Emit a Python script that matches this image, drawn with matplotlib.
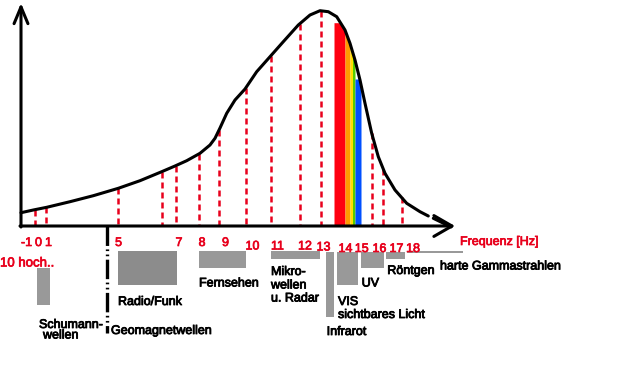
import numpy as np
import matplotlib
matplotlib.use('Agg')
import matplotlib.pyplot as plt
import matplotlib.patheffects as pe

plt.rcParams['font.family'] = ['Liberation Sans', 'DejaVu Sans']
plt.rcParams['lines.scale_dashes'] = False

W, H = 618, 369
AXIS_Y = 226
AXIS_X = 21

# intensity curve (schematic, pixel frame)
curve_x = [21, 33.3, 46.7, 70, 93.3, 118.3, 140, 161.7, 175, 186.7, 200, 210, 215,
           220, 226.7, 235, 245, 256.7, 270, 283.3, 298.3, 310, 320, 328.3, 336.7,
           345, 350, 355, 360, 365, 371.7, 378.3, 385, 395, 406.7, 420, 428.3,
           np.nan, 433.3, 445, 451]
curve_y = [212.7, 210, 207.3, 201.7, 195.7, 188.3, 180.7, 171.7, 166, 160.7, 153.3, 145, 138.3,
           128, 113.3, 100, 89, 71.7, 56.7, 41.7, 25, 15, 10.7, 11.7, 16.7,
           30, 43.3, 60, 80, 103.3, 133.3, 156.7, 173.3, 190, 203.3, 211.7, 216,
           np.nan, 218.3, 224, 227]

# dashed red marker lines
marker_x = [35, 46, 118.3, 161.7, 176, 199.3, 219, 245.5, 270.5, 300, 320.5, 371.7, 383.3, 401.5]

# visible spectrum bands
band_left = [334, 345, 350, 352.5, 355]
band_right = [345, 350, 352.5, 355, 361]
band_cap = [22.7, 0, 0, 0, 79]
band_color = ['#ff0010', '#ff9a00', '#ffe000', '#55cc00', '#0050ff']

# red exponent labels
exp_labels = ['-1', '0', '1', '5', '7', '8', '9', '10', '11', '12', '13', '14', '15', '16', '17', '18']
exp_x = [26.5, 38.5, 48.5, 118.5, 179, 202, 225.5, 252.5, 277.5, 305, 323.5, 345.5, 361.7, 379.5, 396.5, 413]
exp_base = [246, 246, 246, 246, 246, 246, 246, 249.5, 249.5, 249.5, 250.5, 252, 252, 252, 252, 252]

# grey range bars
bar_left = [37.3, 118.3, 199, 270.7, 326, 337.3, 360.7, 386, 406.7]
bar_right = [50, 176.7, 245.7, 320, 334.3, 358.3, 384, 405, 462.7]
bar_top = [268.3, 250.7, 250.7, 251, 251.7, 251.7, 251.7, 251.7, 250.7]
bar_bottom = [305, 285, 267.7, 259, 317, 285, 267.7, 259.3, 253.3]
bar_color = ['#999999', '#8c8c8c', '#999999', '#999999', '#999999', '#999999', '#999999', '#999999', '#999999']

# black names
name_text = ['Schumann-', 'wellen', 'Geomagnetwellen', 'Radio/Funk', 'Fernsehen',
             'Mikro-', 'wellen', 'u. Radar', 'Infrarot', 'VIS', 'sichtbares Licht',
             'UV', 'Röntgen', 'harte Gammastrahlen']
name_x = [39, 43, 111, 118, 199, 271, 271, 271, 326.7, 338, 338, 361.7, 387.3, 440]
name_base = [328, 338.5, 334, 305, 286.5, 275, 288.5, 301.5, 335, 305, 318, 286.5, 274, 269.5]

fig = plt.figure(figsize=(W / 100, H / 100), dpi=100)
ax = fig.add_axes([0, 0, 1, 1])
ax.set_xlim(0, W)
ax.set_ylim(H, 0)
ax.axis('off')

cx = np.array(curve_x, dtype=float)
cy = np.array(curve_y, dtype=float)
ok = ~np.isnan(cx)

def curve_at(x):
    return np.interp(x, cx[ok], cy[ok])

# spectrum bands
for l, r, cap, col in zip(band_left, band_right, band_cap, band_color):
    xs = np.linspace(l, r, 40)
    top = np.maximum(curve_at(xs), cap)
    ax.fill_between(xs, top, AXIS_Y, color=col, lw=0, zorder=2)

# dashed markers
mx = np.array(marker_x)
ax.vlines(mx, curve_at(mx), AXIS_Y, colors='#e8001c', linewidth=1.8,
          linestyles=[(0, (4.3, 2.9))], zorder=3)

# curve
ax.plot(cx, cy, color='black', lw=2.2, solid_capstyle='round',
        solid_joinstyle='round', zorder=4)

# axes with arrows
ax.annotate('', xy=(AXIS_X, 3), xytext=(AXIS_X, AXIS_Y + 1),
            arrowprops=dict(arrowstyle='->,head_length=1.2,head_width=0.5', lw=2.2,
                            color='black', shrinkA=0, shrinkB=0), zorder=5)
ax.annotate('', xy=(455, AXIS_Y), xytext=(AXIS_X - 1, AXIS_Y),
            arrowprops=dict(arrowstyle='->,head_length=1.3,head_width=0.75', lw=2.2,
                            color='black', shrinkA=0, shrinkB=0), zorder=5)

# geomagnetic divider
ax.plot([107, 107], [AXIS_Y, 333], color='black', lw=2.4,
        linestyle=(0, (14, 2.5, 1.2, 2.5, 1.2, 2.5)), zorder=5)

# bars
for l, r, t, b, c in zip(bar_left, bar_right, bar_top, bar_bottom, bar_color):
    ax.bar(l, b - t, width=r - l, bottom=t, align='edge', color=c, lw=0, zorder=2)

red = '#e8001c'
red_fx = [pe.withStroke(linewidth=0.5, foreground=red)]
blk_fx = [pe.withStroke(linewidth=0.6, foreground='black')]
for s, x, y in zip(exp_labels, exp_x, exp_base):
    ax.text(x, y, s, color=red, fontsize=9, ha='center', va='baseline', path_effects=red_fx)
ax.text(0, 266.5, '10 hoch..', color=red, fontsize=9.5, ha='left', va='baseline', path_effects=red_fx)
ax.text(460, 245, 'Frequenz [Hz]', color=red, fontsize=9, ha='left', va='baseline', path_effects=red_fx)

for s, x, y in zip(name_text, name_x, name_base):
    ax.text(x, y, s, color='black', fontsize=9, ha='left', va='baseline', path_effects=blk_fx)

fig.savefig('out.png', dpi=100)
